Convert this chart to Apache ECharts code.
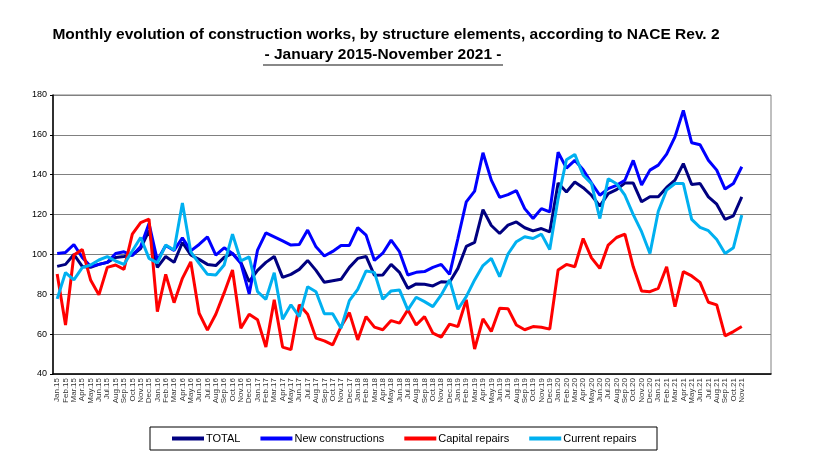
<!DOCTYPE html>
<html><head><meta charset="utf-8">
<script src="https://cdn.jsdelivr.net/npm/echarts@6/dist/echarts.min.js"></script>
<style>html,body{margin:0;padding:0;background:#fff}#c{width:820px;height:473px}</style>
</head><body><div id="c"></div>
<script>
const months = ['Jan','Feb','Mar','Apr','May','Jun','Jul','Aug','Sep','Oct','Nov','Dec'];
const years = ['15','16','17','18','19','20','21'];
const categories = [];
years.forEach(y => months.forEach(m => categories.push(m + '.' + y)));
categories.splice(83); // Jan.15 .. Nov.21
const emptySlots = ['', '', ''];

const yTicks = [40, 60, 80, 100, 120, 140, 160, 180];

const total = [94,95,100,94,93.5,95,96,98.5,99,99.7,103,112,93.5,99,96,106,99.7,97.5,95,94.4,98.5,100.5,96,86.3,92,96,99,88.5,90,92.5,97,92,86,86.8,87.5,93.5,98,99,89.5,89.7,95,91,83,85.2,85,84.2,86.3,86,93,104,106,122.5,114.5,110.5,114.7,116.3,113.4,111.8,113,111.3,135.8,131.3,136.3,133.5,129.7,124.2,130.5,132.5,135.8,135.8,126.4,128.9,128.9,133.6,137.3,145.6,135.1,135.6,128.9,125.2,117.6,119.4,128.9];
const newConstructions = [100.5,101,105,98.5,94,95,96,100.5,101.3,99.5,104,115.5,97,104.5,102,108.3,101.8,105,108.8,99.7,103.3,100.5,95.5,80.2,102.2,110.8,108.8,106.8,104.7,105,112.2,103.8,99.2,101.5,104.5,104.5,113.4,109.7,97,100.6,107.2,101.4,89.7,91,91.4,93.5,95,90,108,126.4,131.8,151,137.3,128.6,130,132,123,118,123,121.3,151.3,143.3,147.2,142.5,135.8,129.7,133,134.7,137.2,147.2,134.8,142.3,144.8,150.3,159,172.3,156,155,147.3,142.3,132.8,135.6,144];
const capitalRepairs = [90.2,64.6,99.7,102.5,87.2,79.7,93.5,94.7,92.5,110.2,116,117.7,71.3,90,75.8,88,96.3,70.5,62,70,80.7,92.2,63,70,67.2,53.5,77.2,53.5,52.2,74.7,70,58,56.6,54.6,63.8,70.8,57.1,68.8,63.5,62.2,66.8,65.5,72.2,64.6,68.8,60.5,58.5,65,63.8,77.2,52.5,67.7,61.3,73,72.8,64.6,62.2,63.8,63.5,62.5,92.2,95,93.8,108,98.3,93,104.7,108.5,110.2,93.8,81.7,81.3,83,93.8,73.8,91.4,89.2,86,76,74.7,59.1,61.3,63.8];
const currentRepairs = [77.7,90.9,87.2,93.4,94.7,97.2,98.9,96.7,95,101.7,108.5,98,95.8,104.7,102.2,125.8,101.3,95.5,90,89.7,94.7,110.2,96.8,98.8,81.3,77.5,90.8,67.5,74.7,68.8,83.8,81.3,70.2,70.2,63,76.8,82.5,91.7,91,77.5,81.7,82.2,72.2,78.5,76.3,73.8,79.7,87.2,72.5,78.8,87.2,94.4,98,88.8,100.2,106.4,108.9,108,110.2,102.5,128,147.5,150.2,139.7,135.5,118,138,135.5,129.7,120,111.4,100.5,121.7,132.3,135.6,135.6,117.6,113.6,111.9,107.5,100.5,103.4,119.7];

const seriesNames = ['TOTAL', 'New constructions', 'Capital repairs', 'Current repairs'];
const seriesColors = ['#000080', '#0000FF', '#FF0000', '#00B0F0'];
const seriesData = [total, newConstructions, capitalRepairs, currentRepairs];

const chart = echarts.init(document.getElementById('c'), null, {renderer: 'canvas'});
const FONT = 'Liberation Sans, Arial, sans-serif';

chart.setOption({
  animation: false,
  backgroundColor: '#fff',
  grid: {left: 53, right: 49, top: 95, bottom: 99, containLabel: false,
         show: true, borderColor: '#808080', borderWidth: 1},
  xAxis: {
    type: 'category',
    data: categories.concat(emptySlots),
    boundaryGap: true,
    axisLine: {show: true, lineStyle: {color: '#000', width: 1.5}},
    axisTick: {show: false},
    axisLabel: {interval: 0, rotate: 90, fontSize: 8, color: '#333', fontFamily: FONT, margin: 4},
    splitLine: {show: false}
  },
  yAxis: {
    type: 'value', min: yTicks[0], max: yTicks[yTicks.length - 1], interval: 20,
    axisLine: {show: true, lineStyle: {color: '#000', width: 1.5}},
    axisTick: {show: true, length: 3, inside: false, lineStyle: {color: '#000'}},
    axisLabel: {fontSize: 9, color: '#000', fontFamily: FONT, margin: 6},
    splitLine: {show: true, lineStyle: {color: '#808080', width: 1}}
  },
  legend: {
    show: true,
    data: seriesNames,
    left: 167, top: 428,
    itemWidth: 32, itemHeight: 4, itemGap: 20,
    icon: 'rect',
    textStyle: {fontSize: 11, color: '#000', fontFamily: FONT, padding: [0, 0, 0, -3]}
  },
  graphic: [
    {type: 'rect', shape: {x: 150, y: 427, width: 507, height: 23},
     style: {fill: 'none', stroke: '#000', lineWidth: 1}, silent: true, z: -1},
    {type: 'text', x: 386, y: 35, style: {text: 'Monthly evolution of construction works, by structure elements, according to NACE Rev. 2',
      font: 'bold 15.5px ' + FONT, fill: '#000', textAlign: 'center', textVerticalAlign: 'middle'}},
    {type: 'text', x: 383, y: 55, style: {text: '- January 2015-November 2021 -',
      font: 'bold 15.5px ' + FONT, fill: '#000', textAlign: 'center', textVerticalAlign: 'middle'}},
    {type: 'line', shape: {x1: 263, y1: 65, x2: 503, y2: 65}, style: {stroke: '#888', lineWidth: 2}}
  ],
  series: seriesNames.map((n, k) => ({
    name: n, type: 'line', data: seriesData[k], showSymbol: false, symbol: 'none',
    lineStyle: {color: seriesColors[k], width: 3}, itemStyle: {color: seriesColors[k]},
    z: 2 + k
  }))
});
</script></body></html>
